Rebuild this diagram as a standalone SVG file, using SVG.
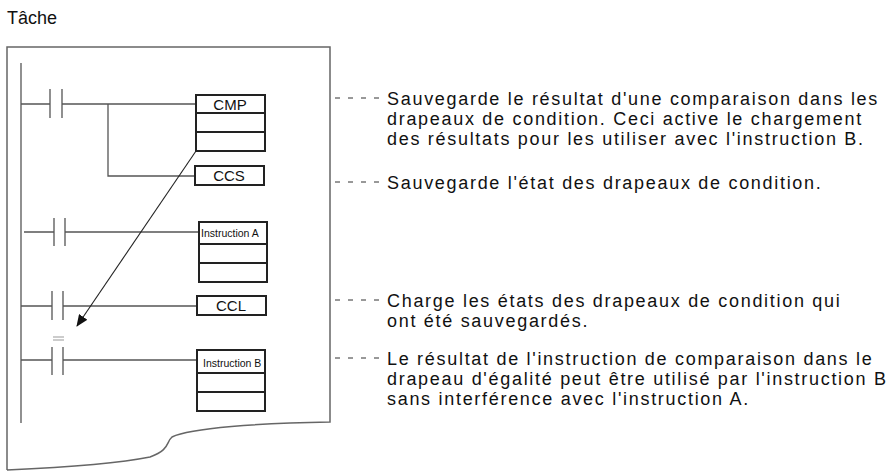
<svg xmlns="http://www.w3.org/2000/svg" width="889" height="473" viewBox="0 0 889 473">
<style>
.l{stroke:#555;stroke-width:1.3;fill:none}
.b{stroke:#222;stroke-width:2;fill:#fff}
.t{font-family:"Liberation Sans",Arial,sans-serif;font-size:18px;letter-spacing:1.7px;fill:#111}
.bt{font-family:"Liberation Sans",Arial,sans-serif;font-size:15px;fill:#111;text-anchor:middle}
.st{font-family:"Liberation Sans",Arial,sans-serif;font-size:10.5px;fill:#111}
.d{stroke:#333;stroke-width:1;stroke-dasharray:5,8;fill:none}
</style>
<defs><marker id="ah" markerWidth="12" markerHeight="10" refX="11" refY="5" orient="auto" markerUnits="userSpaceOnUse"><path d="M0,0 L12,5 L0,10 Z" fill="#111"/></marker></defs>
<text class="t" x="7" y="24" style="font-size:18px;letter-spacing:0">Tâche</text>
<path class="l" d="M7,470 L7,47 L330,47 L330,422 C260,423 190,428 172,437 C166,442 170,450 150,457 C110,465 50,468 7,470" style="stroke:#666;stroke-width:1.5"/>
<line class="l" x1="21" y1="63" x2="21" y2="423"/>
<g id="rung1">
<path class="l" d="M21,104 H50 M50,89 V118 M62,89 V118 M62,104 H196 M108,104 V176 H195"/>
</g>
<g id="cmp"><rect class="b" x="196" y="95" width="69" height="56"/><line class="b" x1="196" y1="113" x2="265" y2="113"/><line class="b" x1="196" y1="132" x2="265" y2="132"/><text class="bt" x="230" y="110">CMP</text></g>
<g id="ccs"><rect class="b" x="195" y="166" width="69" height="19"/><text class="bt" x="229" y="181">CCS</text></g>
<g id="rung2"><path class="l" d="M24,232 H54 M54,218 V246 M65,218 V246 M65,232 H199"/></g>
<g id="instrA"><rect class="b" x="199" y="222" width="68" height="60"/><line class="b" x1="199" y1="244" x2="267" y2="244"/><line class="b" x1="199" y1="263" x2="267" y2="263"/><text class="st" x="201" y="237">Instruction A</text></g>
<g id="rung3"><path class="l" d="M21,306 H52 M52,291 V320 M63,291 V320 M63,306 H197"/></g>
<g id="ccl"><rect class="b" x="197" y="296" width="69" height="19"/><text class="bt" x="231" y="311">CCL</text></g>
<g id="rung4"><path class="l" d="M21,360 H52 M52,347 V375 M63,347 V375 M63,360 H197"/><path d="M53,337 H64 M53,340 H64" stroke="#999" stroke-width="1"/></g>
<g id="instrB"><rect class="b" x="197" y="350" width="68" height="61"/><line class="b" x1="197" y1="373" x2="265" y2="373"/><line class="b" x1="197" y1="392" x2="265" y2="392"/><text class="st" x="203" y="367">Instruction B</text></g>
<g id="connectors">
<line x1="196" y1="151" x2="77" y2="326" stroke="#222" stroke-width="1.1" marker-end="url(#ah)"/>
<line class="d" x1="335" y1="98" x2="386" y2="98"/>
<line class="d" x1="335" y1="182" x2="386" y2="182"/>
<line class="d" x1="335" y1="300" x2="386" y2="300"/>
<line class="d" x1="335" y1="358" x2="386" y2="358"/>
</g>
<g id="notes">
<text class="t" x="387" y="105">Sauvegarde le résultat d'une comparaison dans les</text>
<text class="t" x="387" y="125">drapeaux de condition. Ceci active le chargement</text>
<text class="t" x="387" y="145">des résultats pour les utiliser avec l'instruction B.</text>
<text class="t" x="387" y="189">Sauvegarde l'état des drapeaux de condition.</text>
<text class="t" x="387" y="307">Charge les états des drapeaux de condition qui</text>
<text class="t" x="387" y="327">ont été sauvegardés.</text>
<text class="t" x="387" y="365">Le résultat de l'instruction de comparaison dans le</text>
<text class="t" x="387" y="385">drapeau d'égalité peut être utilisé par l'instruction B</text>
<text class="t" x="387" y="405">sans interférence avec l'instruction A.</text>
</g>
</svg>
